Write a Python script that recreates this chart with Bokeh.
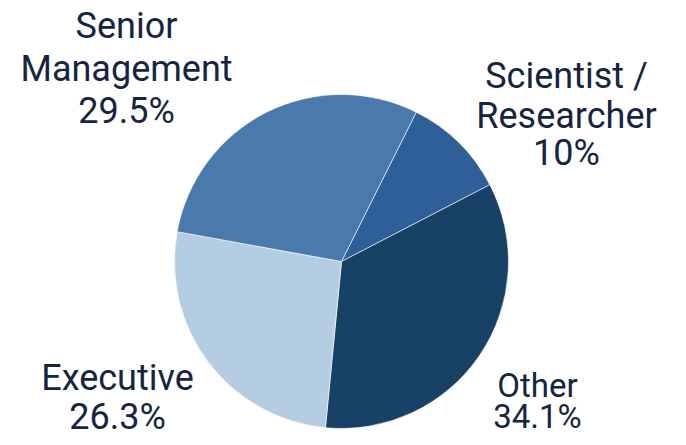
import math
from bokeh.plotting import figure
from bokeh.models import Range1d, ColumnDataSource
from bokeh.embed import file_html
from bokeh.resources import INLINE
from bokeh.core.properties import value

# Data (clockwise from the slice at upper right)
categories = ["Scientist /\nResearcher", "Other", "Executive", "Senior\nManagement"]
shares = [10.0, 34.1, 26.3, 29.5]
share_labels = ["10%", "34.1%", "26.3%", "29.5%"]
colors = ["#2e5f98", "#184166", "#b5cde3", "#4a7aab"]

W, H = 670, 437
p = figure(width=W, height=H, output_backend="svg", toolbar_location=None,
           x_range=Range1d(0, W), y_range=Range1d(0, H), min_border=0)
p.axis.visible = False
p.grid.visible = False
p.outline_line_color = None
p.background_fill_color = "white"
p.border_fill_color = "white"

def fx(px):
    return px

def fy(py):
    return H - py

cx, cy, r = fx(341), fy(261), 167
start_deg = 63.4  # math angle of first boundary
total = sum(shares)
starts, ends = [], []
a = math.radians(start_deg)
for s in shares:
    span = 2 * math.pi * s / total
    starts.append(a)
    ends.append(a - span)
    a -= span

src = ColumnDataSource(dict(x=[cx] * 4, y=[cy] * 4, start=starts, end=ends, color=colors))
p.wedge(x="x", y="y", radius=r, start_angle="start", end_angle="end", direction="clock",
        fill_color="color", line_color="white", line_width=0.6, source=src)

# label layout: (center x, list of baselines, font size) in page pixels
shift = 12
layout = {
    0: (566, [87, 127, 164], 36),
    1: (537, [397, 428], 33),
    2: (117, [389, 428], 36),
    3: (126, [37, 80, 122], 36),
}
tx, ty, tt, ts = [], [], [], []
for i, cat in enumerate(categories):
    lines = cat.split("\n") + [share_labels[i]]
    x0, bases, fs = layout[i]
    for line, b in zip(lines, bases):
        tx.append(fx(x0)); ty.append(fy(b - shift)); tt.append(line); ts.append(f"{fs}px")

tsrc = ColumnDataSource(dict(x=tx, y=ty, text=tt, size=ts))
p.text(x="x", y="y", text="text", text_font_size="size", source=tsrc,
       text_align="center", text_baseline="alphabetic", text_color="#15253f",
       text_font=value("Roboto"))

open("out.html", "w").write(file_html(p, INLINE))
